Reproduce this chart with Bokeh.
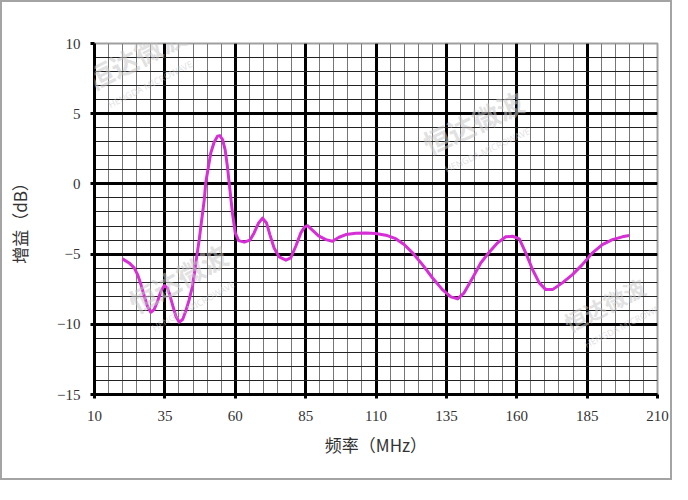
from bokeh.plotting import figure
from bokeh.models import Range1d, FixedTicker, Label
from bokeh.embed import file_html
from bokeh.resources import INLINE

# ---- data ----
freq_mhz = [19.95, 22.3, 24.1, 25.3, 26.5, 27.7, 28.8, 30.0, 31.2, 32.4, 33.6, 34.8,
            35.9, 36.7, 37.7, 38.9, 40.1, 41.3, 42.4, 43.6, 44.8, 45.6, 46.3, 47.2,
            48.1, 49.0, 49.5, 50.5, 51.3, 52.5, 53.7, 54.5, 55.5, 56.4, 57.2, 58.1,
            59.0, 60.0, 61.2, 63.2, 65.2, 66.7, 68.3, 69.7, 71.1, 72.3, 73.8, 75.6,
            78.0, 79.7, 81.5, 83.3, 84.6, 85.7, 87.2, 89.6, 92.2, 94.5, 96.9, 99.3,
            102.8, 106.4, 109.9, 113.5, 117.0, 120.0, 123.0, 126.5, 130.1, 133.6,
            136.6, 139.0, 141.3, 144.3, 147.2, 150.2, 153.2, 156.1, 158.5, 160.9,
            163.2, 165.6, 168.0, 170.3, 172.7, 176.2, 179.8, 183.3, 186.9, 190.4,
            194.0, 197.5, 199.9]
gain_db = [-5.34, -5.63, -5.98, -6.46, -7.17, -8.00, -8.71, -9.14, -8.95, -8.36, -7.64, -7.24,
           -7.41, -7.88, -8.60, -9.42, -9.85, -9.66, -9.07, -8.28, -7.29, -6.20, -5.20, -3.97,
           -2.54, -1.12, 0.07, 1.26, 2.20, 2.97, 3.40, 3.44, 3.16, 2.44, 1.26, -0.41,
           -2.07, -3.49, -4.04, -4.15, -4.01, -3.49, -2.78, -2.44, -2.78, -3.61, -4.56, -5.20,
           -5.43, -5.27, -4.44, -3.49, -3.08, -2.98, -3.25, -3.70, -3.97, -4.08, -3.80, -3.61,
           -3.51, -3.49, -3.54, -3.65, -3.90, -4.32, -4.91, -5.75, -6.70, -7.53,
           -8.05, -8.19, -7.76, -6.70, -5.63, -4.87, -4.20, -3.77, -3.73, -3.92,
           -4.91, -6.10, -7.05, -7.53, -7.53, -7.05, -6.46, -5.75, -4.91, -4.32,
           -3.97, -3.77, -3.68]

x_ticks = [10, 35, 60, 85, 110, 135, 160, 185, 210]
x_minor = list(range(10, 211, 5))
y_ticks = [-15, -10, -5, 0, 5, 10]
y_tick_labels = ["\u221215", "\u221210", "\u22125", "0", "5", "10"]
y_minor = list(range(-15, 11, 1))

x_label = "频率（MHz）"
y_label = "增益（dB）"
watermark = "恒达微波"
watermark_sub = "HENGDA MICROWAVE"

p = figure(width=672, height=480, output_backend="svg", toolbar_location=None,
           x_range=Range1d(10, 210), y_range=Range1d(-15, 10),
           min_border_left=92, min_border_right=17, min_border_top=41, min_border_bottom=88)
p.styles = {"border": "2px solid #a4a4a4"}
p.background_fill_color = "white"
p.border_fill_color = "white"
p.outline_line_color = "#a0a0a0"
p.outline_line_width = 2

# grids
p.xgrid.ticker = FixedTicker(ticks=x_ticks, minor_ticks=x_minor)
p.ygrid.ticker = FixedTicker(ticks=y_ticks, minor_ticks=y_minor)
p.xgrid.grid_line_color = "black"
p.xgrid.grid_line_width = 3
p.ygrid.grid_line_color = "black"
p.ygrid.grid_line_width = 3
p.xgrid.minor_grid_line_color = "#777777"
p.xgrid.minor_grid_line_width = 1
p.ygrid.minor_grid_line_color = "#222222"
p.ygrid.minor_grid_line_width = 1

# axes
p.xaxis.ticker = FixedTicker(ticks=x_ticks)
p.yaxis.ticker = FixedTicker(ticks=y_ticks)
p.yaxis.major_label_overrides = {t: s for t, s in zip(y_ticks, y_tick_labels)}
for ax in (p.xaxis[0], p.yaxis[0]):
    ax.axis_line_color = "black"
    ax.axis_line_width = 3
    ax.major_tick_line_color = "black"
    ax.major_tick_line_width = 3
    ax.major_tick_out = 4
    ax.major_tick_in = 0
    ax.minor_tick_line_color = None
    ax.major_label_text_font = "Liberation Serif"
    ax.major_label_text_font_size = "15px"
    ax.major_label_text_color = "#333333"
    ax.axis_label_text_font = "Noto Sans CJK SC"
    ax.axis_label_text_font_size = "17px"
    ax.axis_label_text_font_style = "normal"
    ax.axis_label_text_color = "#333333"
p.xaxis.major_label_standoff = 12
p.yaxis.major_label_standoff = 10
p.xaxis.axis_label = x_label
p.yaxis.axis_label = y_label
p.xaxis.axis_label_standoff = 8
p.yaxis.axis_label_standoff = 22

# curve
p.line(freq_mhz, gain_db, line_color="#d52fd5", line_width=3, line_join="round")

# watermarks (faint, semi-transparent overlay as in the reference), kept inside the frame
wm_pos = [(10.7, 6.1, 27, 27), (130.1, 1.5, 25, 27), (26.3, -9.8, 29, 27), (179.8, -11.0, 27, 22)]
for wx, wy, ang, fs in wm_pos:
    p.add_layout(Label(x=wx, y=wy, text=watermark, angle=ang, angle_units="deg",
                       text_font="Noto Sans CJK SC", text_font_size=f"{fs}px", text_font_style="bold",
                       text_color="#c8c8c8", text_alpha=0.55))
    p.add_layout(Label(x=wx + 5.5, y=wy - 0.9, text=watermark_sub, angle=ang, angle_units="deg",
                       text_font="Noto Sans", text_font_size="9px",
                       text_color="#c8c8c8", text_alpha=0.55))

open("out.html", "w").write(file_html(p, INLINE))
